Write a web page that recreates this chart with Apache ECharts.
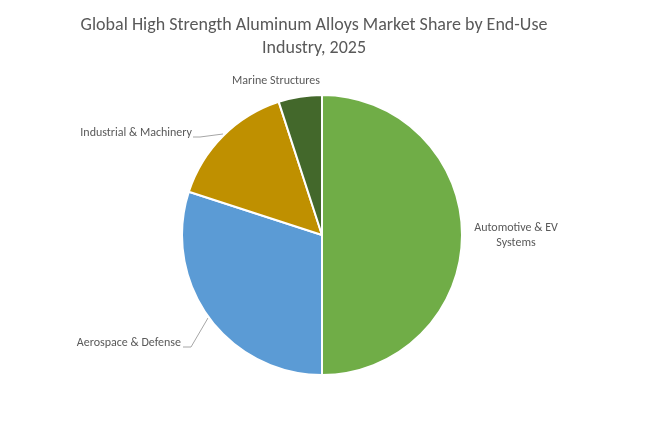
<!DOCTYPE html>
<html>
<head>
<meta charset="utf-8">
<script src="https://cdn.jsdelivr.net/npm/echarts@6/dist/echarts.min.js"></script>
<style>
  html, body { margin: 0; padding: 0; background: #fff; }
  #chart { width: 645px; height: 422px; }
</style>
</head>
<body>
<div id="chart"></div>
<script>
const industries = ["Automotive & EV Systems", "Aerospace & Defense", "Industrial & Machinery", "Marine Structures"]
const shares = [50, 30, 15, 5]
const colors = ["#70AD47", "#5B9BD5", "#BF9000", "#43682B"]

const font = "Carlito, Calibri, 'Liberation Sans', sans-serif"

// label placement like the Excel original (anchor, alignment, leader line)
const labelPlaces = [
  { x: 516, y: 235, align: "center" },
  { x: 181, y: 343, align: "right", line: [[208, 318], [191, 347], [183, 347]] },
  { x: 192, y: 133, align: "right", line: [[223, 134], [200, 137], [193, 137]] },
  { x: 276, y: 81, align: "center" }
]

const chart = echarts.init(document.getElementById("chart"))

const pieData = industries.map((name, i) => {
  const item = { name: name, value: shares[i], itemStyle: { color: colors[i] } }
  if (!labelPlaces[i].line) {
    item.labelLine = { show: false }
  }
  return item
})

chart.setOption({
  animation: false,
  title: {
    text: "Global High Strength Aluminum Alloys Market Share by End-Use\nIndustry, 2025",
    left: 309,
    textAlign: "center",
    top: 9,
    textStyle: {
      fontFamily: font,
      fontSize: 18,
      fontWeight: "normal",
      color: "#595959",
      lineHeight: 23
    }
  },
  series: [
    {
      type: "pie",
      center: [322, 235],
      radius: 140,
      startAngle: 90,
      clockwise: true,
      data: pieData,
      itemStyle: {
        borderColor: "#fff",
        borderWidth: 2
      },
      label: {
        show: true,
        position: "outside",
        fontFamily: font,
        fontSize: 12,
        color: "#595959",
        formatter: function (p) {
          if (p.dataIndex === 0) return "{c|Automotive & EV}\n{c|Systems}"
          return "{c|" + p.name + "}"
        },
        rich: {
          c: { fontFamily: font, fontSize: 12, color: "#595959", align: "center", lineHeight: 15 }
        }
      },
      labelLine: {
        show: true,
        lineStyle: { color: "#A6A6A6", width: 1 }
      },
      labelLayout: function (params) {
        const place = labelPlaces[params.dataIndex]
        const out = {
          x: place.x,
          y: place.y,
          align: place.align,
          verticalAlign: "middle"
        }
        if (place.line) out.labelLinePoints = place.line
        return out
      }
    }
  ]
})
</script>
</body>
</html>
